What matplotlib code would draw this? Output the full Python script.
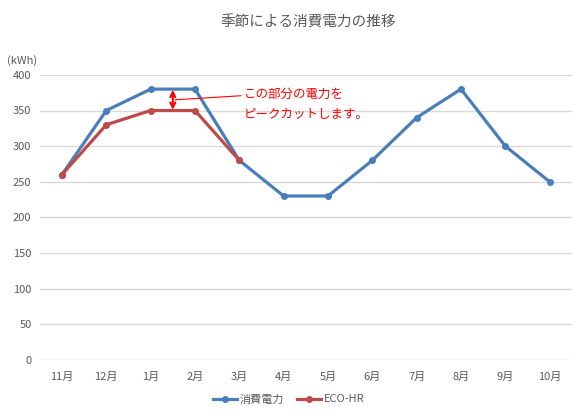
import matplotlib
matplotlib.use('Agg')
import matplotlib.pyplot as plt

plt.rcParams['font.family'] = ['Noto Sans CJK JP', 'DejaVu Sans']

months = ['11月', '12月', '1月', '2月', '3月', '4月', '5月', '6月', '7月', '8月', '9月', '10月']
power = [260, 350, 380, 380, 280, 230, 230, 280, 340, 380, 300, 250]  # 消費電力
eco_hr = [260, 330, 350, 350, 280]  # ECO-HR
yticks = [0, 50, 100, 150, 200, 250, 300, 350, 400]

blue = '#4A7EBB'
red = '#BE4B48'
gray = '#595959'

fig = plt.figure(figsize=(5.77, 4.16), dpi=100)
ax = fig.add_axes([0.069, 0.135, 0.922, 0.685])

x = list(range(len(months)))
ax.plot(x, power, color=blue, lw=2.3, marker='o', ms=4, label='消費電力', zorder=3)
ax.plot(x[:len(eco_hr)], eco_hr, color=red, lw=2.3, marker='o', ms=4, label='ECO-HR', zorder=4)

ax.set_xlim(-0.5, len(months) - 0.5)
ax.set_ylim(0, 400)
ax.set_xticks(x)
ax.set_xticklabels(months)
ax.set_yticks(yticks)
ax.tick_params(axis='both', length=0, labelsize=8, colors=gray)
ax.tick_params(axis='x', pad=9)
ax.tick_params(axis='y', pad=6)
ax.grid(axis='y', color='#D9D9D9', lw=1)
ax.set_axisbelow(True)
for s in ax.spines.values():
    s.set_visible(False)

# peak cut annotation (between 1月 and 2月)
ax.annotate('', xy=(2.5, 351), xytext=(2.5, 379),
            arrowprops=dict(arrowstyle='<->', color='red', lw=1.5, mutation_scale=9,
                            shrinkA=0, shrinkB=0), zorder=5)
ax.annotate('この部分の電力を\nピークカットします。', xy=(2.55, 365), xytext=(4.1, 358),
            color='red', fontsize=9, va='center', linespacing=1.7,
            arrowprops=dict(arrowstyle='-', color='red', lw=0.8, shrinkA=0, shrinkB=0,
                            relpos=(0, 0.78)))

fig.text(0.535, 0.945, '季節による消費電力の推移', ha='center', va='center', fontsize=10.5, color=gray)
fig.text(0.012, 0.855, '(kWh)', ha='left', va='center', fontsize=8, color=gray)

fig.legend(loc='center', bbox_to_anchor=(0.5, 0.04), ncol=2, frameon=False,
           fontsize=8, labelcolor=gray, handlelength=2.2, columnspacing=1.2, handletextpad=0.2)

fig.savefig('out.png', dpi=100)
